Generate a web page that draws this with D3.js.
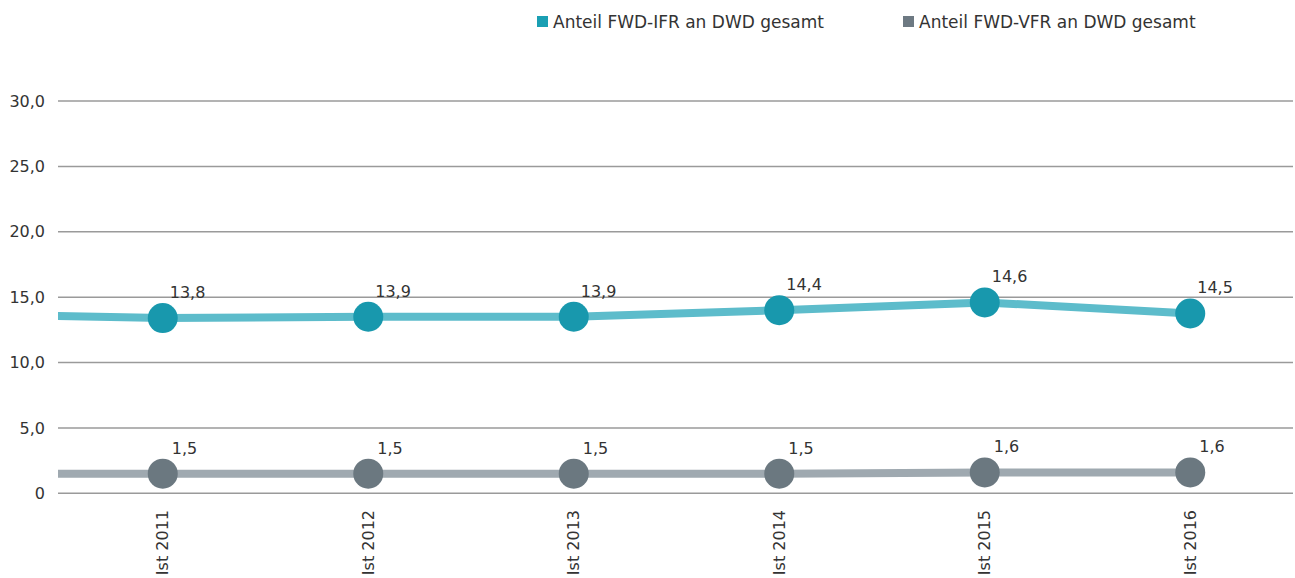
<!DOCTYPE html>
<html>
<head>
<meta charset="utf-8">
<script src="https://cdn.jsdelivr.net/npm/d3@7/dist/d3.min.js"></script>
<style>
  html, body { margin: 0; padding: 0; background: #ffffff; }
  svg { display: block; font-family: "DejaVu Sans", sans-serif; }
</style>
</head>
<body>
<svg id="chart" width="1295" height="578"></svg>
<script>
// ---- data ----
const categories = ["Ist 2011", "Ist 2012", "Ist 2013", "Ist 2014", "Ist 2015", "Ist 2016"];
const seriesNames = ["Anteil FWD-IFR an DWD gesamt", "Anteil FWD-VFR an DWD gesamt"];
// plotted positions
const ifrValues = [13.4, 13.5, 13.5, 14.0, 14.6, 13.75];
const vfrValues = [1.5, 1.5, 1.5, 1.5, 1.6, 1.6];
// printed value labels
const ifrLabels = ["13,8", "13,9", "13,9", "14,4", "14,6", "14,5"];
const vfrLabels = ["1,5", "1,5", "1,5", "1,5", "1,6", "1,6"];
// the lines enter from a preceding (off-chart) year
const ifrLead = 13.7;
const vfrLead = 1.5;
const yTicks = [0, 5, 10, 15, 20, 25, 30];
const yTickLabels = ["0", "5,0", "10,0", "15,0", "20,0", "25,0", "30,0"];

// ---- layout ----
const svg = d3.select("#chart");
const plotLeft = 58, plotRight = 1293;
const yScale = d3.scaleLinear().domain([0, 30]).range([493.3, 101]);
const xScale = d3.scaleBand().domain(categories).range([60, 1293]).padding(0);
const cx = c => xScale(c) + xScale.bandwidth() / 2;
const step = xScale.step();

const colors = {
  ifrLine: "#5dbccb", ifrDot: "#1898ad", ifrLegend: "#1a9fb3",
  vfrLine: "#9fa9b0", vfrDot: "#6b7880", vfrLegend: "#6d7982"
};
const textColor = "#333333";

// gridlines
const grid = svg.append("g");
grid.selectAll("line").data(yTicks).join("line")
  .attr("x1", plotLeft).attr("x2", plotRight)
  .attr("y1", d => yScale(d)).attr("y2", d => yScale(d))
  .attr("stroke", "#9a9a9a").attr("stroke-width", 1.5);

// y axis labels
const yAxis = d3.axisLeft(yScale).tickValues(yTicks)
  .tickFormat((d, i) => yTickLabels[i]).tickSize(0).tickPadding(0);
const yg = svg.append("g").attr("transform", "translate(45,0)").call(yAxis);
yg.select(".domain").remove();
yg.selectAll("text").attr("font-size", 16).attr("fill", textColor)
  .attr("font-family", "DejaVu Sans, sans-serif");

// x axis labels
const xAxis = d3.axisBottom(xScale).tickSize(0).tickPadding(0);
const xg = svg.append("g").attr("transform", "translate(0,510)").call(xAxis);
xg.select(".domain").remove();
xg.selectAll("text")
  .attr("font-size", 16).attr("fill", textColor)
  .attr("font-family", "DejaVu Sans, sans-serif")
  .attr("transform", "rotate(-90)")
  .attr("text-anchor", "end")
  .attr("x", 0).attr("y", 0).attr("dy", "0.35em");

// clip for lines
svg.append("clipPath").attr("id", "plotclip")
  .append("rect").attr("x", plotLeft).attr("y", 0)
  .attr("width", plotRight - plotLeft).attr("height", 578);

const lineGen = d3.line().x(d => d.x).y(d => yScale(d.v));

function drawSeries(values, lead, labels, lineColor, dotColor, labelDx) {
  const pts = [{ x: cx(categories[0]) - step, v: lead }]
    .concat(values.map((v, i) => ({ x: cx(categories[i]), v })));
  svg.append("path").datum(pts)
    .attr("d", lineGen)
    .attr("fill", "none").attr("stroke", lineColor)
    .attr("stroke-width", 8).attr("clip-path", "url(#plotclip)");
  const g = svg.append("g");
  g.selectAll("circle").data(values).join("circle")
    .attr("cx", (d, i) => cx(categories[i]))
    .attr("cy", d => yScale(d))
    .attr("r", 15).attr("fill", dotColor);
  g.selectAll("text").data(values).join("text")
    .attr("x", (d, i) => cx(categories[i]) + labelDx)
    .attr("y", d => yScale(d) - 20)
    .attr("font-size", 16).attr("fill", textColor)
    .text((d, i) => labels[i]);
}
drawSeries(ifrValues, ifrLead, ifrLabels, colors.ifrLine, colors.ifrDot, 7);
drawSeries(vfrValues, vfrLead, vfrLabels, colors.vfrLine, colors.vfrDot, 9);

// legend
const legendX = [537, 903];
const legendColors = [colors.ifrLegend, colors.vfrLegend];
const lg = svg.append("g");
seriesNames.forEach((name, i) => {
  lg.append("rect").attr("x", legendX[i]).attr("y", 16)
    .attr("width", 11).attr("height", 11).attr("fill", legendColors[i]);
  lg.append("text").attr("x", legendX[i] + 16).attr("y", 28)
    .attr("font-size", 17).attr("fill", textColor).text(name);
});
</script>
</body>
</html>
